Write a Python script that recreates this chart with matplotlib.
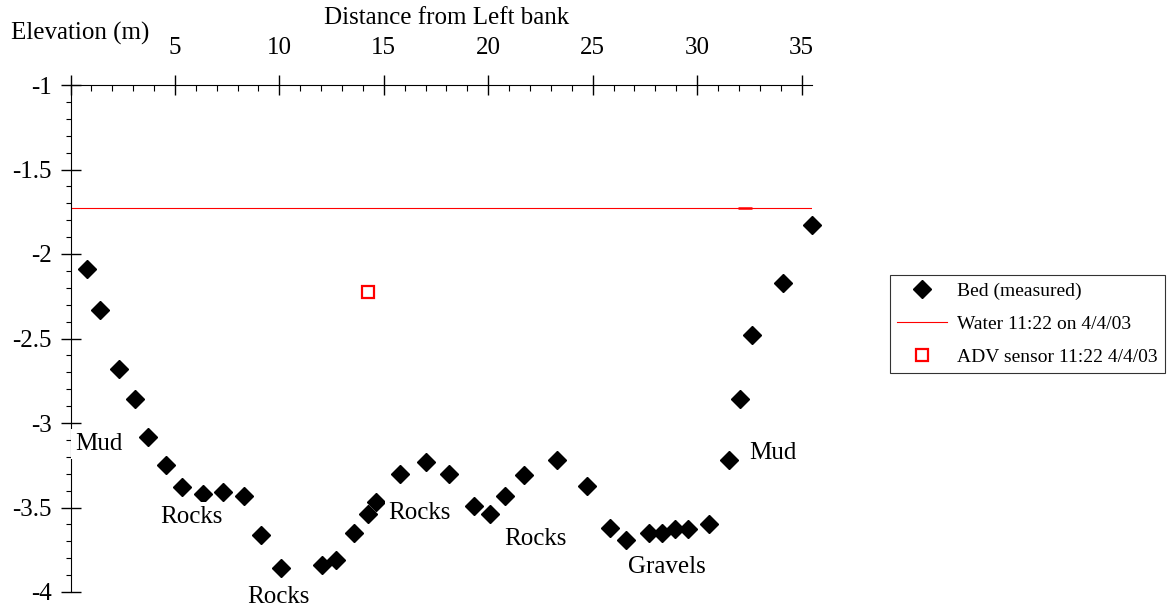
import matplotlib.pyplot as plt
from matplotlib.ticker import MultipleLocator, FuncFormatter

plt.rcParams['font.family'] = ['Liberation Serif', 'DejaVu Serif']
plt.rcParams['axes.unicode_minus'] = False

# bed survey, distance from left bank (m) vs elevation (m)
bed_x = [0.79, 1.41, 2.32, 3.09, 3.71, 4.57, 5.33, 6.34, 7.30, 8.30, 9.11, 10.07,
         12.03, 12.70, 13.56, 14.23, 14.62, 15.77, 17.01, 18.11, 19.31, 20.07,
         20.79, 21.70, 23.28, 24.71, 25.81, 26.58, 27.68, 28.30, 28.92, 29.54,
         30.55, 31.51, 32.03, 32.61, 34.09, 35.48]
bed_y = [-2.09, -2.33, -2.68, -2.86, -3.08, -3.25, -3.38, -3.42, -3.41, -3.43,
         -3.66, -3.86, -3.84, -3.81, -3.65, -3.54, -3.47, -3.30, -3.23, -3.30,
         -3.49, -3.54, -3.43, -3.31, -3.22, -3.37, -3.62, -3.69, -3.65, -3.65,
         -3.63, -3.63, -3.60, -3.22, -2.86, -2.48, -2.17, -1.83]

water_x = [0, 35.5]
water_y = [-1.728, -1.728]

adv_x = [14.23]
adv_y = [-2.225]

labels = ['Mud', 'Rocks', 'Rocks', 'Rocks', 'Rocks', 'Gravels', 'Mud']
label_x = [1.36, 5.81, 9.93, 16.72, 22.27, 28.54, 33.61]
label_y = [-3.124, -3.556, -4.03, -3.533, -3.686, -3.852, -3.178]

fig = plt.figure(figsize=(11.71, 6.11), dpi=100)
ax = fig.add_axes([70.5 / 1171, 19 / 611, 741.5 / 1171, 507 / 611])

ax.plot(bed_x, bed_y, 'D', color='black', ms=9, ls='none', label='Bed (measured)',
        clip_on=False, zorder=3)
ax.plot(water_x, water_y, color='red', lw=0.8, label='Water 11:22 on 4/4/03', zorder=2)
ax.plot(adv_x, adv_y, 's', mfc='none', mec='red', mew=1.6, ms=9, ls='none',
        label='ADV sensor 11:22 4/4/03', zorder=3)
ax.plot([32.3], [-1.728], marker='_', color='red', ms=9.5, mew=1.8, zorder=2)

for t, x, y in zip(labels, label_x, label_y):
    ax.text(x, y, t, ha='center', va='center', fontsize=18, zorder=5, clip_on=False,
            bbox=dict(boxstyle='square,pad=0.15', fc='white', ec='none'))

ax.set_xlim(0, 35.5)
ax.set_ylim(-4, -1)
ax.spines['right'].set_visible(False)
ax.spines['bottom'].set_visible(False)
ax.xaxis.tick_top()
ax.xaxis.set_major_locator(MultipleLocator(5))
ax.xaxis.set_minor_locator(MultipleLocator(1))
ax.yaxis.set_major_locator(MultipleLocator(0.5))
ax.yaxis.set_minor_locator(MultipleLocator(0.1))
# the 0 label sits under the "Elevation (m)" title in the original
ax.xaxis.set_major_formatter(FuncFormatter(lambda v, p: '' if v == 0 else '%g' % v))
ax.yaxis.set_major_formatter(FuncFormatter(lambda v, p: '%g' % v))
ax.tick_params(axis='x', which='major', direction='inout', length=15, width=1,
               labelsize=18, pad=11)
ax.tick_params(axis='x', which='minor', direction='in', length=4.5, width=0.8)
ax.tick_params(axis='y', which='major', direction='inout', length=15, width=1,
               labelsize=18, pad=6)
ax.tick_params(axis='y', which='minor', direction='out', length=3.5, width=0.8)

fig.text(447 / 1171, 1 - 18 / 611, 'Distance from Left bank', ha='center', va='center',
         fontsize=18)
fig.text(80 / 1171, 1 - 33 / 611, 'Elevation (m)', ha='center', va='center', fontsize=18,
         zorder=5, bbox=dict(boxstyle='square,pad=0.15', fc='white', ec='none'))

leg = ax.legend(loc='center left', bbox_to_anchor=(890 / 1171, 1 - 324 / 611),
                bbox_transform=fig.transFigure, fontsize=14, frameon=True,
                fancybox=False, edgecolor='black', handlelength=2.6,
                borderpad=0.35, labelspacing=0.8, handletextpad=0.5,
                borderaxespad=0)
leg.get_frame().set_linewidth(0.8)

fig.savefig('out.png', dpi=100)
